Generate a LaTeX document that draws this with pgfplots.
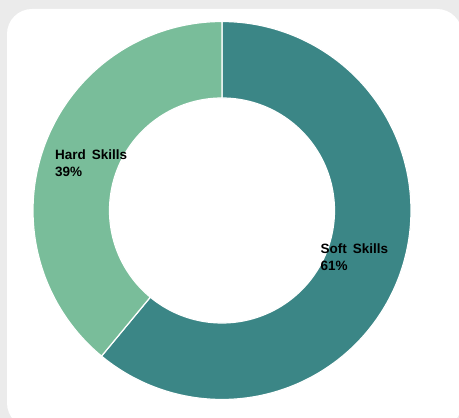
\documentclass[border=0pt]{standalone}
\usepackage{pgfplots}
\pgfplotsset{compat=1.18}
\usepackage{pgfplotstable}
\usepgfplotslibrary{fillbetween}
\usepackage{fontspec}
\setmainfont{Liberation Sans}
\definecolor{softc}{HTML}{3B8686}
\definecolor{hardc}{HTML}{79BD9A}
\definecolor{bgc}{HTML}{EBEBEB}
\pgfplotstableread{
label value
Soft 61
Hard 39
}\skilldata
\begin{document}
\begin{tikzpicture}
\pgfplotstablegetelem{0}{value}\of\skilldata \let\softv\pgfplotsretval
\pgfplotstablegetelem{1}{value}\of\skilldata \let\hardv\pgfplotsretval
\pgfmathsetmacro\sEnd{90-3.6*\softv}
\pgfmathsetmacro\hEnd{\sEnd-3.6*\hardv}
\def\cx{222}\def\cy{207.5}\def\Ro{189}\def\Ri{112.5}
\begin{axis}[
  set layers,
  scale only axis, width=459pt, height=418pt,
  xmin=0, xmax=459, ymin=0, ymax=418,
  hide axis, clip=true,
]
\pgfonlayer{axis background}
\fill[bgc] (axis cs:0,0) rectangle (axis cs:459,418);
\fill[white, rounded corners=25pt] (axis cs:7,-10) rectangle (axis cs:462,409);
\endpgfonlayer
% Soft skills slice
\addplot[draw=none, name path=softO, domain=\sEnd:90, samples=150, variable=\t] ({\cx+\Ro*cos(\t)},{\cy+\Ro*sin(\t)});
\addplot[draw=none, name path=softI, domain=\sEnd:90, samples=150, variable=\t] ({\cx+\Ri*cos(\t)},{\cy+\Ri*sin(\t)});
\addplot[fill=softc, draw=white, line width=1.2pt] fill between[of=softO and softI];
% Hard skills slice
\addplot[draw=none, name path=hardO, domain=\hEnd:\sEnd, samples=120, variable=\t] ({\cx+\Ro*cos(\t)},{\cy+\Ro*sin(\t)});
\addplot[draw=none, name path=hardI, domain=\hEnd:\sEnd, samples=120, variable=\t] ({\cx+\Ri*cos(\t)},{\cy+\Ri*sin(\t)});
\addplot[fill=hardc, draw=white, line width=1.2pt] fill between[of=hardO and hardI];
% labels
\node[anchor=base west, inner sep=0pt, font=\fontsize{13.5pt}{17.4pt}\selectfont\bfseries, align=left] at (axis cs:55,241.3) {Hard\ \,Skills\\39\%};
\node[anchor=base west, inner sep=0pt, font=\fontsize{13.5pt}{17.4pt}\selectfont\bfseries, align=left] at (axis cs:320.5,147.3) {Soft\ \,Skills\\61\%};
\end{axis}
\end{tikzpicture}
\end{document}
